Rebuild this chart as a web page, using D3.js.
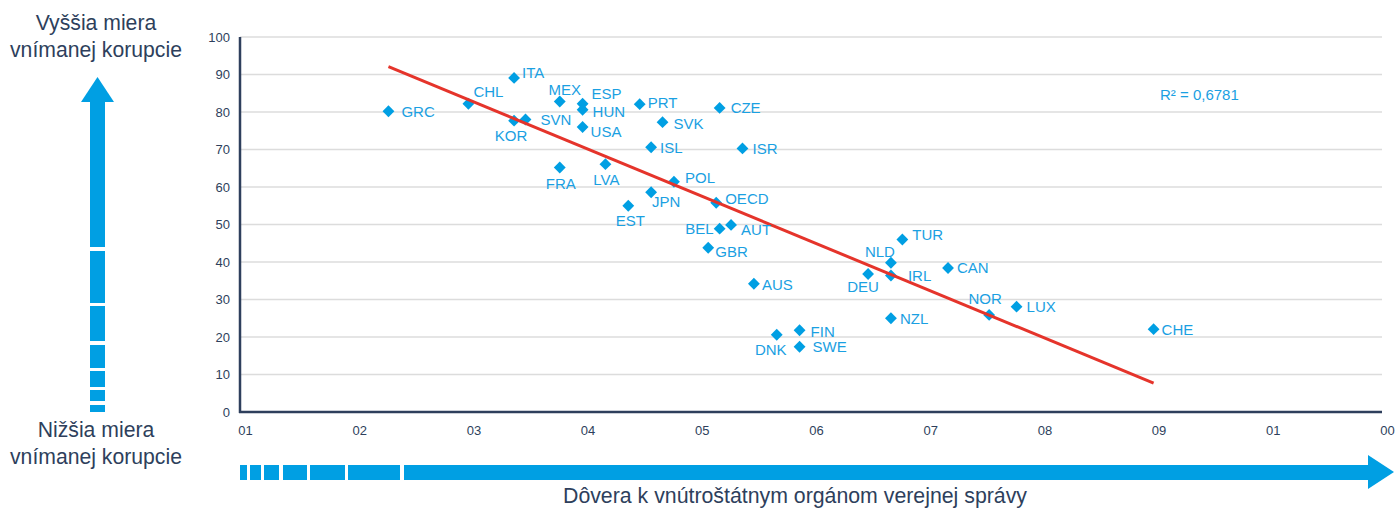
<!DOCTYPE html>
<html><head><meta charset="utf-8">
<script src="https://cdn.jsdelivr.net/npm/d3@7"></script>
<style>body{margin:0;background:#fff}svg{display:block;font-family:"Liberation Sans",Arial,sans-serif}</style>
</head><body><svg id="c" width="1395" height="513"></svg>
<script>
const countries = ["GRC","CHL","ITA","KOR","SVN","MEX","ESP","HUN","USA","PRT","SVK","ISL","FRA","LVA","POL","JPN","EST","CZE","ISR","OECD","BEL","AUT","GBR","TUR","NLD","DEU","IRL","CAN","AUS","NOR","LUX","NZL","FIN","DNK","SWE","CHE"];
const trust = [13,20,24,24,25,28,30,30,30,35,37,36,28,32,38,36,34,42,44,41.7,42,43,41,58,57,55,57,62,45,65.6,68,57,49,47,49,80];
const corruption = [80.2,82.2,89.1,77.7,78.0,82.8,82.2,80.6,76.0,82.1,77.3,70.6,65.2,66.1,61.4,58.6,55.0,81.1,70.3,55.8,48.9,49.9,43.8,46.0,39.8,36.8,36.4,38.4,34.2,25.9,28.1,25.0,21.8,20.6,17.4,22.1];
const xTickValues = [0,10,20,30,40,50,60,70,80,90,100];
const xTickLabels = ["01","02","03","04","05","06","07","08","09","01","00"];
const yTickValues = [0,10,20,30,40,50,60,70,80,90,100];
const trendX = [13,80];
const trendY = [92.1,7.7];
const r2Label = "R² = 0,6781";

// label placement (layout only)
const lp = {
 GRC:[13,0,"start"],CHL:[5,-12,"start"],ITA:[8,-5,"start"],KOR:[-3,15,"middle"],SVN:[15,0,"start"],
 MEX:[5,-12,"middle"],ESP:[9,-10,"start"],HUN:[10,2,"start"],USA:[8,5,"start"],PRT:[8,-2,"start"],
 SVK:[11,1,"start"],ISL:[9,0,"start"],FRA:[1,16,"middle"],LVA:[1,15,"middle"],POL:[11,-4,"start"],
 JPN:[15,9,"middle"],EST:[2,15,"middle"],CZE:[11,0,"start"],ISR:[10,0,"start"],OECD:[9,-4,"start"],
 BEL:[-6,0,"end"],AUT:[10,5,"start"],GBR:[7,4,"start"],TUR:[10,-5,"start"],NLD:[-11,-11,"middle"],
 DEU:[-5,13,"middle"],IRL:[17,0,"start"],CAN:[9,0,"start"],AUS:[8,1,"start"],NOR:[-4,-16,"middle"],
 LUX:[10,0,"start"],NZL:[9,0,"start"],FIN:[11,1,"start"],DNK:[-6,15,"middle"],SWE:[13,0,"start"],CHE:[8,0,"start"]
};

const svg = d3.select("#c");
const x = d3.scaleLinear().domain([0,100]).range([240,1382]);
const y = d3.scaleLinear().domain([0,100]).range([412,37]);
const dark = "#2e3f5c", blue = "#009fe3", lblue = "#1aa0e2";

// gridlines
svg.append("g").selectAll("line").data(yTickValues.filter(d=>d>0)).join("line")
 .attr("x1",x(0)).attr("x2",x(100)).attr("y1",d=>y(d)).attr("y2",d=>y(d))
 .attr("stroke","#dcdcdc").attr("stroke-width",1.5);

// y axis
const ya = svg.append("g").attr("transform",`translate(${x(0)},0)`)
 .call(d3.axisLeft(y).tickValues(yTickValues).tickSize(0).tickPadding(10));
ya.select(".domain").remove();
ya.selectAll("text").attr("font-size",13).attr("fill",dark).attr("font-family","Liberation Sans, Arial, sans-serif");
svg.append("line").attr("x1",x(0)).attr("x2",x(0)).attr("y1",y(100)).attr("y2",y(0)+1)
 .attr("stroke",dark).attr("stroke-width",2.5);

// x axis
const xa = svg.append("g").attr("transform",`translate(0,${y(0)})`)
 .call(d3.axisBottom(x).tickValues(xTickValues).tickFormat((d,i)=>xTickLabels[i]).tickSize(0).tickPadding(14));
xa.select(".domain").remove();
xa.selectAll("text").attr("font-size",13).attr("fill",dark).attr("dx",5).attr("font-family","Liberation Sans, Arial, sans-serif");
svg.append("line").attr("x1",x(0)-1).attr("x2",x(100)).attr("y1",y(0)).attr("y2",y(0))
 .attr("stroke",dark).attr("stroke-width",2.5);

// points
const pts = countries.map((c,i)=>({c,x:trust[i],y:corruption[i]}));
svg.append("g").selectAll("path").data(pts).join("path")
 .attr("d",d3.symbol(d3.symbolSquare,70))
 .attr("transform",d=>`translate(${x(d.x)},${y(d.y)}) rotate(45)`)
 .attr("fill",blue);

// trend line
svg.append("line").attr("x1",x(trendX[0])).attr("y1",y(trendY[0])).attr("x2",x(trendX[1])).attr("y2",y(trendY[1]))
 .attr("stroke","#e5342b").attr("stroke-width",3);

// labels
svg.append("g").selectAll("text").data(pts).join("text")
 .attr("x",d=>x(d.x)+lp[d.c][0]).attr("y",d=>y(d.y)+lp[d.c][1])
 .attr("dy","0.36em").attr("text-anchor",d=>lp[d.c][2])
 .attr("font-size",15).attr("fill",lblue).text(d=>d.c);

svg.append("text").attr("x",1160).attr("y",95).attr("dy","0.36em").attr("font-size",15).attr("fill",lblue).text(r2Label);

// side texts
const side = svg.append("g").attr("font-size",21.2).attr("fill",dark).attr("text-anchor","middle");
side.append("text").attr("x",96).attr("y",30).text("Vyššia miera");
side.append("text").attr("x",96).attr("y",57).text("vnímanej korupcie");
side.append("text").attr("x",96).attr("y",437).text("Nižšia miera");
side.append("text").attr("x",96).attr("y",464).text("vnímanej korupcie");
svg.append("text").attr("x",795).attr("y",503).attr("text-anchor","middle").attr("font-size",21.3).attr("fill",dark)
 .text("Dôvera k vnútroštátnym orgánom verejnej správy");

// vertical arrow
svg.append("path").attr("d","M81,102 L97.5,77 L114,102 Z").attr("fill",blue);
const vseg = [[102,247],[251,303],[306,341],[345,368],[371,387],[390,401],[405,412]];
svg.append("g").selectAll("rect").data(vseg).join("rect")
 .attr("x",90).attr("width",15).attr("y",d=>d[0]).attr("height",d=>d[1]-d[0]).attr("fill",blue);

// horizontal arrow
const hseg = [[240,247],[250,261],[264,279],[283,307],[310,345],[348,400],[404,1369]];
svg.append("g").selectAll("rect").data(hseg).join("rect")
 .attr("y",465).attr("height",15).attr("x",d=>d[0]).attr("width",d=>d[1]-d[0]).attr("fill",blue);
svg.append("path").attr("d","M1368,455 L1394,472 L1368,489 Z").attr("fill",blue);
</script></body></html>
